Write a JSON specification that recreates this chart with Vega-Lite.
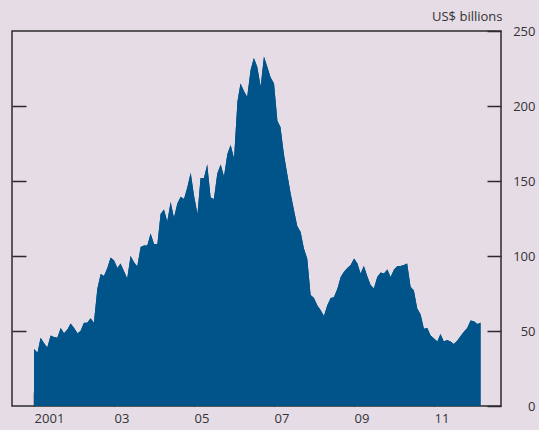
{
  "$schema": "https://vega.github.io/schema/vega-lite/v6.json",
  "width": 489,
  "height": 375,
  "autosize": {"type": "none"},
  "padding": {"left": 12, "top": 31, "right": 38, "bottom": 24},
  "background": "#e6dce6",
  "config": {
    "font": "Open Sans",
    "view": {"stroke": "#2b2b2b", "strokeWidth": 1.5},
    "axis": {"grid": false, "domain": false, "tickColor": "#2b2b2b", "tickWidth": 1.5, "labelColor": "#333333", "labelFontSize": 13, "labelFont": "Open Sans"}
  },
  "data": {"values": [
    {"date": "2001-01", "value": 38}, {"date": "2001-02", "value": 35.5}, {"date": "2001-03", "value": 45.5}, {"date": "2001-04", "value": 42}, {"date": "2001-05", "value": 39}, {"date": "2001-06", "value": 47}, {"date": "2001-07", "value": 46}, {"date": "2001-08", "value": 45.5}, {"date": "2001-09", "value": 52}, {"date": "2001-10", "value": 48.5}, {"date": "2001-11", "value": 51}, {"date": "2001-12", "value": 55},
    {"date": "2002-01", "value": 52}, {"date": "2002-02", "value": 48.5}, {"date": "2002-03", "value": 50}, {"date": "2002-04", "value": 55.5}, {"date": "2002-05", "value": 55.5}, {"date": "2002-06", "value": 58.5}, {"date": "2002-07", "value": 55.5}, {"date": "2002-08", "value": 78}, {"date": "2002-09", "value": 88}, {"date": "2002-10", "value": 86.7}, {"date": "2002-11", "value": 92}, {"date": "2002-12", "value": 99},
    {"date": "2003-01", "value": 97}, {"date": "2003-02", "value": 92}, {"date": "2003-03", "value": 95}, {"date": "2003-04", "value": 90}, {"date": "2003-05", "value": 85}, {"date": "2003-06", "value": 100}, {"date": "2003-07", "value": 96}, {"date": "2003-08", "value": 93}, {"date": "2003-09", "value": 106}, {"date": "2003-10", "value": 107}, {"date": "2003-11", "value": 107}, {"date": "2003-12", "value": 115},
    {"date": "2004-01", "value": 108}, {"date": "2004-02", "value": 108}, {"date": "2004-03", "value": 128}, {"date": "2004-04", "value": 131}, {"date": "2004-05", "value": 123}, {"date": "2004-06", "value": 136}, {"date": "2004-07", "value": 125.5}, {"date": "2004-08", "value": 135}, {"date": "2004-09", "value": 139.5}, {"date": "2004-10", "value": 138}, {"date": "2004-11", "value": 146}, {"date": "2004-12", "value": 155.5},
    {"date": "2005-01", "value": 140}, {"date": "2005-02", "value": 128}, {"date": "2005-03", "value": 152}, {"date": "2005-04", "value": 152}, {"date": "2005-05", "value": 161}, {"date": "2005-06", "value": 139}, {"date": "2005-07", "value": 138}, {"date": "2005-08", "value": 155}, {"date": "2005-09", "value": 161}, {"date": "2005-10", "value": 153}, {"date": "2005-11", "value": 168}, {"date": "2005-12", "value": 174},
    {"date": "2006-01", "value": 165}, {"date": "2006-02", "value": 203}, {"date": "2006-03", "value": 215}, {"date": "2006-04", "value": 210}, {"date": "2006-05", "value": 206}, {"date": "2006-06", "value": 224}, {"date": "2006-07", "value": 232}, {"date": "2006-08", "value": 226}, {"date": "2006-09", "value": 213}, {"date": "2006-10", "value": 233}, {"date": "2006-11", "value": 226}, {"date": "2006-12", "value": 219},
    {"date": "2007-01", "value": 215}, {"date": "2007-02", "value": 190}, {"date": "2007-03", "value": 186}, {"date": "2007-04", "value": 168}, {"date": "2007-05", "value": 155}, {"date": "2007-06", "value": 142}, {"date": "2007-07", "value": 131}, {"date": "2007-08", "value": 120}, {"date": "2007-09", "value": 116}, {"date": "2007-10", "value": 105}, {"date": "2007-11", "value": 98}, {"date": "2007-12", "value": 74},
    {"date": "2008-01", "value": 72}, {"date": "2008-02", "value": 67}, {"date": "2008-03", "value": 64}, {"date": "2008-04", "value": 60}, {"date": "2008-05", "value": 67}, {"date": "2008-06", "value": 72}, {"date": "2008-07", "value": 72.5}, {"date": "2008-08", "value": 78}, {"date": "2008-09", "value": 86}, {"date": "2008-10", "value": 89.5}, {"date": "2008-11", "value": 92}, {"date": "2008-12", "value": 94},
    {"date": "2009-01", "value": 98.4}, {"date": "2009-02", "value": 95}, {"date": "2009-03", "value": 88.4}, {"date": "2009-04", "value": 93.3}, {"date": "2009-05", "value": 86.7}, {"date": "2009-06", "value": 80.7}, {"date": "2009-07", "value": 78.4}, {"date": "2009-08", "value": 86}, {"date": "2009-09", "value": 89}, {"date": "2009-10", "value": 88.4}, {"date": "2009-11", "value": 91}, {"date": "2009-12", "value": 86},
    {"date": "2010-01", "value": 91}, {"date": "2010-02", "value": 93.3}, {"date": "2010-03", "value": 93.3}, {"date": "2010-04", "value": 94}, {"date": "2010-05", "value": 95}, {"date": "2010-06", "value": 79.5}, {"date": "2010-07", "value": 77}, {"date": "2010-08", "value": 65}, {"date": "2010-09", "value": 61}, {"date": "2010-10", "value": 51.5}, {"date": "2010-11", "value": 52}, {"date": "2010-12", "value": 47},
    {"date": "2011-01", "value": 45}, {"date": "2011-02", "value": 43}, {"date": "2011-03", "value": 48}, {"date": "2011-04", "value": 43}, {"date": "2011-05", "value": 44}, {"date": "2011-06", "value": 43}, {"date": "2011-07", "value": 41.3}, {"date": "2011-08", "value": 43.5}, {"date": "2011-09", "value": 46.7}, {"date": "2011-10", "value": 49.5}, {"date": "2011-11", "value": 52}, {"date": "2011-12", "value": 57},
    {"date": "2012-01", "value": 56.5}, {"date": "2012-02", "value": 54.7}, {"date": "2012-03", "value": 55.5}
  ]},
  "resolve": {"axis": {"y": "independent", "x": "independent"}},
  "layer": [
    {
      "mark": {"type": "area", "color": "#00548a", "interpolate": "linear"},
      "encoding": {
        "x": {
          "field": "date", "type": "temporal",
          "scale": {"type": "utc", "domain": [{"year": 2000, "month": 6, "date": 13, "utc": true}, {"year": 2012, "month": 9, "date": 4, "utc": true}]},
          "axis": {
            "title": null,
            "values": [{"year": 2001, "month": 1, "date": 1, "utc": true}, {"year": 2003, "month": 1, "date": 1, "utc": true}, {"year": 2005, "month": 1, "date": 1, "utc": true}, {"year": 2007, "month": 1, "date": 1, "utc": true}, {"year": 2009, "month": 1, "date": 1, "utc": true}, {"year": 2011, "month": 1, "date": 1, "utc": true}],
            "labelExpr": "utcFormat(datum.value, '%Y') == '2001' ? '2001' : utcFormat(datum.value, '%y')",
            "tickSize": -14, "labelAlign": "left", "labelBaseline": "top", "labelPadding": 20, "labelFlush": false, "labelOverlap": false
          }
        },
        "y": {
          "field": "value", "type": "quantitative",
          "scale": {"domain": [0, 250], "nice": false},
          "axis": {
            "orient": "right", "values": [0, 50, 100, 150, 200, 250], "tickSize": -14, "labelAlign": "right", "labelBaseline": "middle", "labelPadding": 48,
            "title": "US$ billions", "titleAngle": 0, "titleAlign": "right", "titleBaseline": "bottom", "titleX": 1, "titleY": -8,
            "titleFontSize": 13, "titleFontWeight": "normal", "titleColor": "#333333", "titleFont": "Open Sans"
          }
        }
      }
    },
    {
      "mark": {"type": "area", "color": "#00548a", "interpolate": "linear"},
      "encoding": {
        "x": {"field": "date", "type": "temporal", "axis": null},
        "y": {
          "field": "value", "type": "quantitative",
          "axis": {"orient": "left", "values": [50, 100, 150, 200], "tickSize": -14, "labels": false, "title": null}
        }
      }
    }
  ]
}
